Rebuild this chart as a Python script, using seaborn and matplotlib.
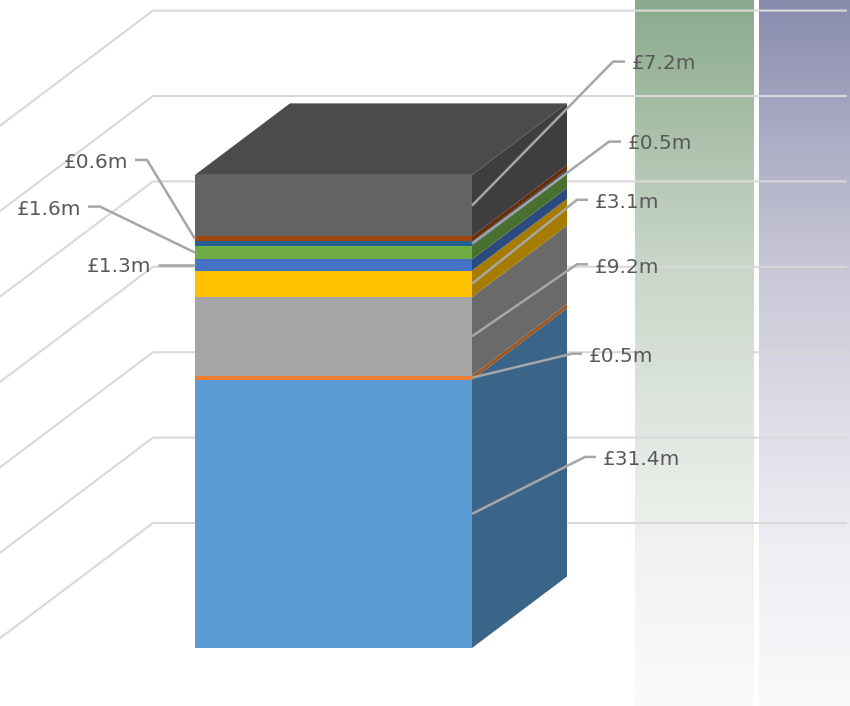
import numpy as np
import matplotlib
matplotlib.use("Agg")
import matplotlib.pyplot as plt
import seaborn as sns

# Stack contents, bottom to top (£m)
segments = ["Seg 1", "Seg 2", "Seg 3", "Seg 4", "Seg 5", "Seg 6", "Seg 7", "Seg 8", "Seg 9"]
values = [31.4, 0.5, 9.2, 3.1, 1.3, 1.6, 0.5, 0.6, 7.2]
front_colors = ["#5B9BD5", "#ED7D31", "#A5A5A5", "#FFC000", "#4472C4", "#70AD47", "#255E91", "#9E480E", "#636363"]
side_colors = ["#3A6488", "#A0561F", "#6A6A6A", "#A67C00", "#2B4A80", "#49702E", "#183D5E", "#672F09", "#3E3E3E"]
top_color = "#4B4B4B"
grid_values = [0, 10, 20, 30, 40, 50, 60]

# Canvas geometry in pixels
W, H = 850, 706
BAR_LEFT, BAR_RIGHT, BAR_BASE = 195, 472, 648
PX_PER_UNIT = 8.54
DEPTH_X, DEPTH_Y = 95, 71.5
WALL_X, WALL_RIGHT, WALL_BASE = 153, 846, 523

sns.set_theme(style="white")
plt.rcParams["font.family"] = ["DejaVu Sans"]

fig = plt.figure(figsize=(W / 100, H / 100), dpi=100)
ax = fig.add_axes([0, 0, 1, 1])

# The single bar occupies x in [-0.5, 0.5]
px_per_x = BAR_RIGHT - BAR_LEFT
def dx(px):
    return px / px_per_x
def dy(px):
    return px / PX_PER_UNIT
def x_of(px):
    return -0.5 + (px - BAR_LEFT) / px_per_x
def y_of(px):
    return (BAR_BASE - px) / PX_PER_UNIT

xlim = (x_of(0), x_of(W))
ylim = (y_of(H), y_of(0))

# Gradient bands behind the chart
stops_px = [0, 130, 260, 400, 550, 706]
green_stops = np.array([(137, 170, 141), (170, 192, 170), (200, 214, 201), (220, 228, 220), (240, 243, 239), (250, 251, 250)]) / 255
purple_stops = np.array([(137, 139, 173), (170, 170, 195), (198, 198, 214), (219, 219, 229), (238, 238, 243), (250, 250, 252)]) / 255
rows = np.arange(H)
for stops, (x0, x1) in [(green_stops, (635, 754)), (purple_stops, (759, 850))]:
    grad = np.stack([np.interp(rows, stops_px, stops[:, c]) for c in range(3)], axis=1)[:, None, :]
    ax.imshow(grad, extent=(x_of(x0), x_of(x1), y_of(H), y_of(0)), aspect="auto", origin="upper", zorder=0)

# Wall and floor gridlines
wall_lift = dy(BAR_BASE - WALL_BASE)
slope = DEPTH_Y / DEPTH_X
for g in grid_values:
    yb = g + wall_lift
    ax.plot([x_of(WALL_X - 400), x_of(WALL_X), x_of(WALL_RIGHT)],
            [yb - dy(400 * slope), yb, yb],
            color="#D9D9D9", lw=1.5, zorder=0.5, solid_joinstyle="miter")

# Front faces
bases = np.concatenate([[0], np.cumsum(values)[:-1]])
for name, v, b, c in zip(segments, values, bases, front_colors):
    sns.barplot(x=["Total"], y=[v], bottom=b, color=c, saturation=1, width=1,
                errorbar=None, linewidth=0, ax=ax, zorder=2)

# Side faces and top, offset along the depth direction
xr = 0.5
ddx, ddy = dx(DEPTH_X), dy(DEPTH_Y)
for v, b, c in zip(values, bases, side_colors):
    ax.fill([xr, xr + ddx, xr + ddx, xr], [b, b + ddy, b + v + ddy, b + v],
            color=c, lw=0, zorder=2)
total = float(np.sum(values))
ax.fill([-0.5, -0.5 + ddx, xr + ddx, xr], [total, total + ddy, total + ddy, total],
        color=top_color, lw=0, zorder=2)

# Leader lines per segment: side, elbow offset (px), run length (px), text nudge (px)
leaders = [
    (1, (113, -57), 11, 1),
    (1, (100, -24), 10, 1),
    (1, (105, -72), 11, 1),
    (1, (105, -84), 11, 1),
    (-1, (0, 0), 37, 0),
    (-1, (95, -46), 12, 1),
    (1, (137, -102), 12, 0),
    (-1, (48, -79), 12, 1),
    (1, (141, -144), 12, 0),
]
label_gap = 7
for v, b, (side, (ex, ey), run, nudge) in zip(values, bases, leaders):
    mid = b + v / 2
    x0 = xr if side > 0 else -0.5
    x1 = x0 + side * dx(ex)
    y1 = mid - dy(ey)
    x2 = x1 + side * dx(run)
    ax.plot([x0, x1, x2], [mid, y1, y1], color="#A6A6A6", lw=1.8, zorder=3,
            solid_joinstyle="round", solid_capstyle="butt")
    ax.text(x2 + side * dx(label_gap), y1 - dy(nudge), f"£{v:.1f}m", color="#595959",
            fontsize=14.5, va="center_baseline", ha="left" if side > 0 else "right", zorder=4)

ax.set_xlim(*xlim)
ax.set_ylim(*ylim)
ax.axis("off")
fig.savefig("out.png", dpi=100, facecolor="white")
